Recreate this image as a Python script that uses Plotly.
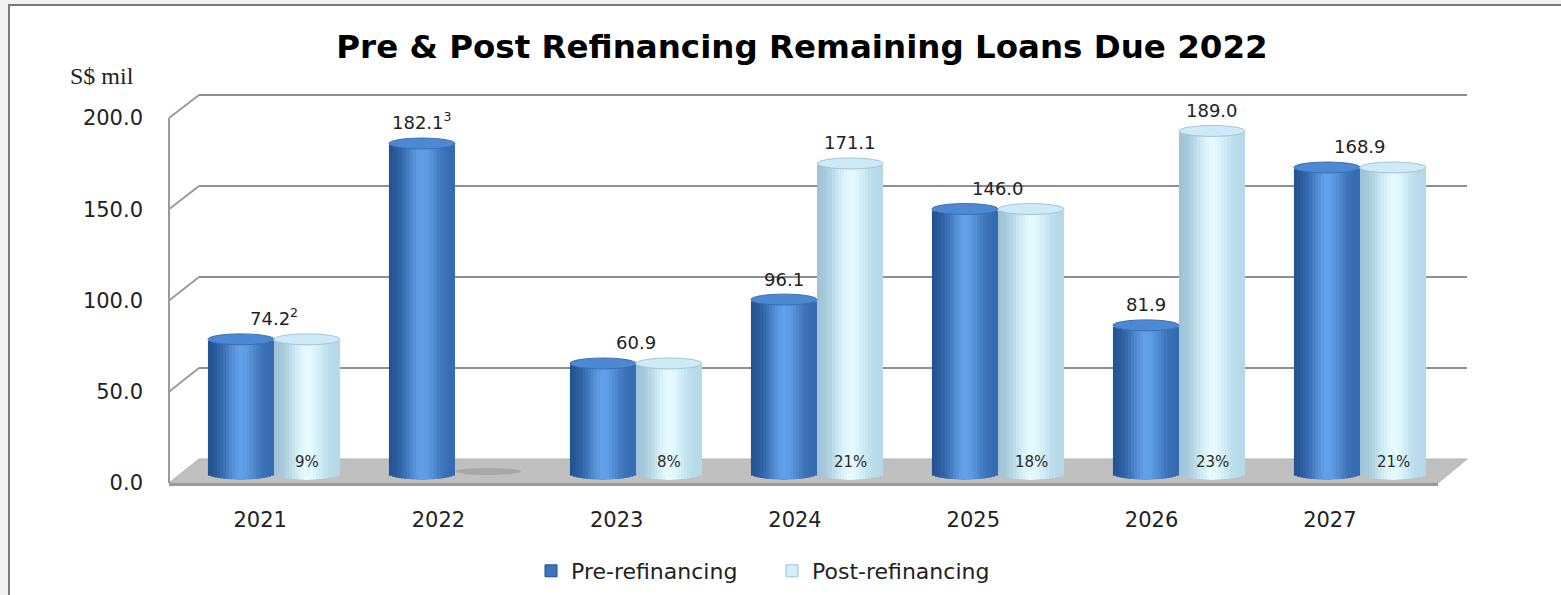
import numpy as np
import plotly.graph_objects as go

# ---------------- data ----------------
years = ["2021", "2022", "2023", "2024", "2025", "2026", "2027"]
pre_refi = [74.2, 182.1, 60.9, 96.1, 146.0, 81.9, 168.9]
post_refi = [74.2, 0.0, 60.9, 171.1, 146.0, 189.0, 168.9]
post_share = ["9%", "", "8%", "21%", "18%", "23%", "21%"]
footnotes = ["2", "3", "", "", "", "", ""]
y_ticks = [0, 50, 100, 150, 200]

# ---------------- geometry / style ----------------
W, H = 1561, 595
def px(x): return x / W
def py(y): return 1 - y / H

BACK_L, BACK_R, BACK_Y0, BACK_Y200 = 199, 1467, 459, 95
FRONT_L, FRONT_R, FRONT_Y0, FRONT_Y200 = 169, 1438, 483, 118
MID_L, MID_R, MID_Y0, MID_Y200 = 183.5, 1450.5, 474, 111
LAB_L, LAB_R = 171, 1419

def back_y(v): return BACK_Y0 - v * (BACK_Y0 - BACK_Y200) / 200
def front_y(v): return FRONT_Y0 - v * (FRONT_Y0 - FRONT_Y200) / 200
def mid_y(v): return MID_Y0 - v * (MID_Y0 - MID_Y200) / 200

BW = 0.365      # bar width (category units)
NS = 22         # shading strips per cylinder
E = 3.0         # ellipse semi-height (data units)
YMIN, YMAX = -12, 215

def hex2rgb(h):
    return np.array([int(h[i:i + 2], 16) for i in (1, 3, 5)], float)

def shade(u, left, right, hi):
    edge = hex2rgb(left) + (hex2rgb(right) - hex2rgb(left)) * (u + 1) / 2
    g = np.exp(-((u - 0.02) / 0.55) ** 2)
    c = edge + (hex2rgb(hi) - edge) * g
    return "rgb(%d,%d,%d)" % tuple(np.round(c))

PRE_COLS = ("#21508f", "#3368ae", "#619fe6")
POST_COLS = ("#9cc1d4", "#b3d8e8", "#e4faff")
PRE_TOP, PRE_TOP_LINE = "#4d89d3", "#3a6fb3"
POST_TOP, POST_TOP_LINE = "#cdeaf6", "#a3c6d8"

xs = list(range(len(years)))
fig = go.Figure()

# back-wall subplot (gridlines)
fig.add_trace(go.Scatter(x=[None], y=[None], xaxis="x", yaxis="y",
                         showlegend=False, hoverinfo="skip"))

# cylinders built from overlapping strips (outer strips first, extending to the centre)
sw = BW / NS
order = sorted(range(NS), key=lambda k: -abs((2 * k + 1) / NS - 1))
for vals, off0, cols in [(pre_refi, -BW, PRE_COLS), (post_refi, 0.0, POST_COLS)]:
    for k in order:
        u = -1 + (2 * k + 1) / NS
        base = -E * np.sqrt(1 - u * u)
        c = shade(u, *cols)
        if u < 0:
            off = off0 + k * sw
            wid = (NS / 2 - k) * sw + sw
        else:
            off = off0 + (NS / 2 - 1) * sw
            wid = (k + 1 - (NS / 2 - 1)) * sw
        fig.add_trace(go.Bar(
            x=xs, y=vals, base=[base] * len(xs), offset=off, width=wid,
            marker=dict(color=c, line=dict(width=0)),
            xaxis="x2", yaxis="y2", showlegend=False, hoverinfo="skip"))

# legend entries
fig.add_trace(go.Bar(x=[None], y=[None], name="Pre-refinancing",
                     marker=dict(color="#3c74c2", line=dict(color="#234f8c", width=1)),
                     xaxis="x2", yaxis="y2"))
fig.add_trace(go.Bar(x=[None], y=[None], name="Post-refinancing",
                     marker=dict(color="#d4eef8", line=dict(color="#9bbfd4", width=1)),
                     xaxis="x2", yaxis="y2"))

# front plane subplot (tick labels)
fig.add_trace(go.Scatter(x=[None], y=[None], xaxis="x3", yaxis="y3",
                         showlegend=False, hoverinfo="skip"))

shapes = []
shapes.append(dict(type="rect", xref="paper", yref="paper",
                   x0=px(9), x1=px(W + 40), y0=py(5), y1=py(H + 40),
                   fillcolor="white", line=dict(color="#7a7a7a", width=2), layer="below"))
floor = "M %f,%f L %f,%f L %f,%f L %f,%f Z" % (
    px(FRONT_L), py(front_y(0)), px(BACK_L), py(back_y(0)),
    px(BACK_R), py(back_y(0)), px(FRONT_R), py(front_y(0)))
shapes.append(dict(type="path", xref="paper", yref="paper", path=floor,
                   fillcolor="#c0c0c0", line=dict(color="#b0b0b0", width=1), layer="below"))
shapes.append(dict(type="line", xref="paper", yref="paper",
                   x0=px(FRONT_L), x1=px(FRONT_R), y0=py(front_y(0) + 1.5), y1=py(front_y(0) + 1.5),
                   line=dict(color="#9a9a9a", width=3), layer="below"))
for v in y_ticks[1:]:
    shapes.append(dict(type="line", xref="paper", yref="paper",
                       x0=px(FRONT_L), y0=py(front_y(v)), x1=px(BACK_L), y1=py(back_y(v)),
                       line=dict(color="#9a9a9a", width=2), layer="below"))
shapes.append(dict(type="line", xref="paper", yref="paper",
                   x0=px(FRONT_L), y0=py(front_y(max(y_ticks))), x1=px(FRONT_L), y1=py(front_y(0)),
                   line=dict(color="#9a9a9a", width=2), layer="below"))

for vals, off0, top, topline in [(pre_refi, -BW, PRE_TOP, PRE_TOP_LINE),
                                 (post_refi, 0.0, POST_TOP, POST_TOP_LINE)]:
    for i, v in zip(xs, vals):
        if v > 0:
            shapes.append(dict(type="circle", xref="x2", yref="y2",
                               x0=i + off0, x1=i + off0 + BW, y0=v - E, y1=v + E,
                               fillcolor=top, line=dict(color=topline, width=1), layer="above"))
        else:
            shapes.append(dict(type="circle", xref="x2", yref="y2",
                               x0=i + off0, x1=i + off0 + BW, y0=-E / 6, y1=E * 1.1,
                               fillcolor="#a8a8a8", line=dict(width=0), layer="below"))

annotations = []
LABEL_FONT = dict(family="DejaVu Sans", size=18, color="#222222")
for i in xs:
    a, b = pre_refi[i], post_refi[i]
    items = [(i, a)] if a == b else [(i - BW / 2, a), (i + BW / 2, b)]
    first = True
    for x, v in items:
        if v <= 0:
            continue
        txt = "%.1f" % v
        if first and footnotes[i]:
            txt += "<sup>%s</sup>" % footnotes[i]
        first = False
        annotations.append(dict(x=x, y=v, xref="x2", yref="y2", text=txt,
                                showarrow=False, yanchor="bottom", yshift=8, font=LABEL_FONT))
    if post_share[i]:
        annotations.append(dict(x=i + BW / 2, y=0, xref="x2", yref="y2", text=post_share[i],
                                showarrow=False, yanchor="middle", yshift=12,
                                font=dict(family="DejaVu Sans", size=15, color="#2a2a2a")))

annotations.append(dict(x=px(102), y=py(76), xref="paper", yref="paper", text="S$ mil",
                        showarrow=False, xanchor="center", yanchor="middle",
                        font=dict(family="Liberation Serif", size=24, color="#222222")))

TICK_FONT = dict(family="DejaVu Sans", size=21, color="#222222")
fig.update_layout(
    template="none",
    width=W, height=H, autosize=False,
    margin=dict(l=0, r=0, t=0, b=0, pad=0),
    paper_bgcolor="#f2f2f2", plot_bgcolor="rgba(0,0,0,0)",
    barmode="overlay", hovermode=False,
    title=dict(text="<b>Pre & Post Refinancing Remaining Loans Due 2022</b>",
               x=px(802), y=py(47), xanchor="center", yanchor="middle", automargin=False,
               font=dict(family="DejaVu Sans", size=32.5, color="#000000")),
    xaxis=dict(domain=[px(BACK_L), px(BACK_R)], range=[0, 1], visible=False, anchor="y",
               automargin=False),
    yaxis=dict(domain=[py(back_y(-1)), py(back_y(201))], range=[-1, 201], anchor="x",
               tickvals=y_ticks[1:], showgrid=True, gridcolor="#8f8f8f", gridwidth=2,
               showticklabels=False, zeroline=False, showline=False, ticks="", automargin=False),
    xaxis2=dict(domain=[px(MID_L), px(MID_R)], range=[-0.5, 6.5], visible=False, anchor="y2",
                automargin=False),
    yaxis2=dict(domain=[py(mid_y(YMIN)), py(mid_y(YMAX))], range=[YMIN, YMAX],
                visible=False, anchor="x2", automargin=False),
    xaxis3=dict(domain=[px(LAB_L), px(LAB_R)], range=[-0.5, 6.5], anchor="y3",
                tickvals=xs, ticktext=years, tickfont=TICK_FONT, showgrid=False,
                zeroline=False, showline=False, ticks="", ticklabelstandoff=22, automargin=False),
    yaxis3=dict(domain=[py(FRONT_Y0), py(FRONT_Y200)], range=[0, 200], anchor="x3",
                tickvals=y_ticks, tickformat=".1f", tickfont=TICK_FONT, showgrid=False,
                zeroline=False, showline=False, ticks="", ticklabelstandoff=27, automargin=False),
    legend=dict(orientation="h", x=px(772), y=py(571), xanchor="center", yanchor="middle",
                font=dict(family="DejaVu Sans", size=22, color="#222222"),
                bgcolor="rgba(0,0,0,0)", entrywidth=196),
    shapes=shapes, annotations=annotations,
)

fig.write_html("out.html")
